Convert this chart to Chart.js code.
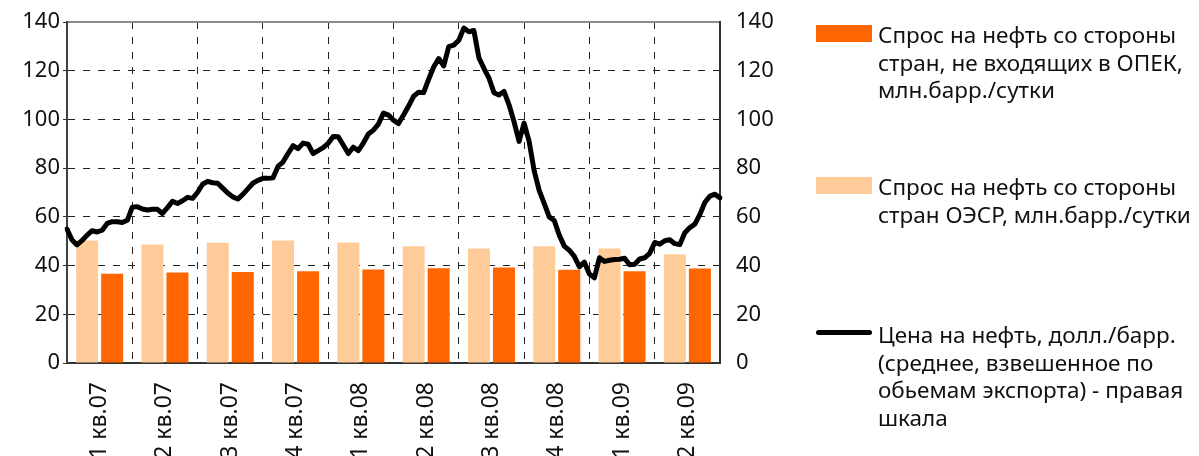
<!DOCTYPE html>
<html>
<head>
<meta charset="utf-8">
<script src="https://cdn.jsdelivr.net/npm/chart.js@4.4.0/dist/chart.umd.min.js"></script>
<style>
html,body{margin:0;padding:0;background:#fff;overflow:hidden;}
#wrap{position:relative;width:1199px;height:456px;}
#c,#c2{position:absolute;left:0;top:0;}
#c2{pointer-events:none;}
#legend{position:absolute;left:0;top:0;width:1199px;height:456px;font-family:"Noto Sans",sans-serif;font-size:22.5px;color:#111;}
.item{position:absolute;left:816px;width:383px;}
.item0{top:21px}
.item1{top:173px}
.item2{top:321px}
.sw{position:absolute;left:0;width:56px;}
.sw.box{top:4px;height:17px;}
.sw.line{top:9px;height:5px;border-radius:3px;}
.tx{position:absolute;left:62px;top:0;white-space:pre;line-height:27.5px;}
</style>
</head>
<body>
<div id="wrap">
<canvas id="c" width="1199" height="456"></canvas>
<canvas id="c2" width="1199" height="456"></canvas>
<div id="legend"></div>
</div>
<script>
// ---- data ----
const quarters = ['1 кв.07','2 кв.07','3 кв.07','4 кв.07','1 кв.08','2 кв.08','3 кв.08','4 кв.08','1 кв.09','2 кв.09'];
const oecdDemand = [50.3, 48.7, 49.4, 50.3, 49.5, 47.9, 47.0, 47.9, 47.0, 44.6];
const nonOpecDemand = [36.6, 37.2, 37.4, 37.7, 38.4, 38.9, 39.2, 38.3, 37.7, 38.8];
const oilPrice = [
  55, 50.5, 48.5, 50.3, 52.5, 54.3, 53.8, 54.5, 57.3, 58, 58, 57.7, 58.6, 64,
  64.2, 63.2, 62.8, 63.1, 63.1, 61.4, 63.8, 66.4, 65.5, 66.6, 68, 67.6, 70.1,
  73.4, 74.6, 74, 73.8, 71.8, 69.8, 68.2, 67.3, 69.2, 71.5, 73.8, 75, 75.8,
  75.8, 76, 80.7, 82.5, 86, 89.2, 88, 90.3, 89.8, 86, 87.2, 88.4, 90.2, 93,
  92.9, 89.5, 86, 88.6, 87.2, 90.3, 94, 95.6, 98.1, 102.6, 101.8, 99.7, 98.3,
  101.8, 105.5, 109.5, 111.2, 111, 116.5, 121.5, 125, 122, 129.9, 130.5, 132.5,
  137.5, 136, 136.5, 125.3, 121, 117, 111, 110, 111.5, 106, 99, 91, 98.5, 91,
  79, 70.9, 65.5, 60, 58.5, 52.5, 48, 46.3, 43.8, 39.5, 41.4, 36.5, 35, 43.2,
  41.7, 42.2, 42.5, 42.6, 43, 40.3, 40.5, 42.7, 43.2, 45, 49.5, 48.8, 50.2,
  50.6, 49, 48.6, 53.5, 55.6, 57, 61, 66, 68.5, 69.3, 67.8
];
const weeks = oilPrice.map((_, i) => 'нед. ' + (i + 1));
const yTicks = [0, 20, 40, 60, 80, 100, 120, 140];

const labelNonOpec = 'Спрос на нефть со стороны\nстран, не входящих в ОПЕК,\nмлн.барр./сутки';
const labelOecd = 'Спрос на нефть со стороны\nстран ОЭСР, млн.барр./сутки';
const labelPrice = 'Цена на нефть, долл./барр.\n(среднее, взвешенное по\nобьемам экспорта) - правая\nшкала';

const FONT = '"Noto Sans", sans-serif';
const tickFont = {family: FONT, size: 22};
const DASH = [7, 8];
const W = 1199, H = 456;

// ---- base chart: bars, grid and both value axes ----
const chart = new Chart(document.getElementById('c'), {
  type: 'bar',
  data: {
    labels: quarters,
    datasets: [
      {
        label: labelOecd, data: oecdDemand, backgroundColor: '#FFCC99',
        categoryPercentage: 0.766, barPercentage: 0.88
      },
      {
        label: labelNonOpec, data: nonOpecDemand, backgroundColor: '#FF6600',
        categoryPercentage: 0.766, barPercentage: 0.88
      }
    ]
  },
  options: {
    responsive: false,
    animation: false,
    layout: {padding: {top: 0, right: 419, bottom: 0, left: 0}},
    plugins: {legend: {display: false}, tooltip: {enabled: false}},
    scales: {
      x: {
        type: 'category', position: 'bottom', offset: true,
        grid: {offset: true, color: '#222', lineWidth: 1, drawTicks: false},
        border: {display: true, color: '#333', width: 2, dash: DASH},
        ticks: {font: {family: FONT, size: 23}, color: '#111', minRotation: 90, maxRotation: 90, autoSkip: false, padding: 19},
        afterFit: (s) => { s.height = 93; }
      },
      xTop: {
        type: 'category', position: 'top', offset: true,
        grid: {display: false},
        border: {display: true, color: '#8c8c8c', width: 2},
        ticks: {display: false},
        afterFit: (s) => { s.height = 22; }
      },
      y: {
        position: 'left', min: 0, max: 140,
        afterBuildTicks: (s) => { s.ticks = yTicks.map(v => ({value: v})); },
        grid: {color: '#222', lineWidth: 1, drawTicks: true, tickLength: 4, tickColor: '#333', tickBorderDash: []},
        border: {display: true, color: '#404040', width: 2, dash: DASH},
        ticks: {font: tickFont, color: '#111', padding: 3},
        afterFit: (s) => { s.width = 67; }
      },
      y2: {
        position: 'right', min: 0, max: 140,
        afterBuildTicks: (s) => { s.ticks = yTicks.map(v => ({value: v})); },
        grid: {display: false},
        border: {display: true, color: '#333', width: 2},
        ticks: {font: tickFont, color: '#111', padding: 8},
        afterFit: (s) => { s.width = 60; }
      }
    }
  }
});

// ---- overlay chart: weekly oil price on the right scale, same plot area ----
const ca = chart.chartArea;
const priceChart = new Chart(document.getElementById('c2'), {
  type: 'line',
  data: {
    labels: weeks,
    datasets: [{
      label: labelPrice, data: oilPrice,
      borderColor: '#000000', borderWidth: 5, pointRadius: 0,
      tension: 0, borderJoinStyle: 'round', borderCapStyle: 'round'
    }]
  },
  options: {
    responsive: false,
    animation: false,
    layout: {padding: {left: ca.left, top: ca.top, right: W - ca.right, bottom: H - ca.bottom}},
    plugins: {legend: {display: false}, tooltip: {enabled: false}},
    scales: {
      x: {type: 'category', offset: false, display: false},
      y: {min: 0, max: 140, display: false}
    }
  }
});

// ---- HTML legend built from the charts' datasets ----
const legendItems = [
  {ds: chart.data.datasets[1], line: false},
  {ds: chart.data.datasets[0], line: false},
  {ds: priceChart.data.datasets[0], line: true}
];
const legendEl = document.getElementById('legend');
legendItems.forEach((it, k) => {
  const item = document.createElement('div');
  item.className = 'item item' + k;
  const sw = document.createElement('span');
  sw.className = 'sw ' + (it.line ? 'line' : 'box');
  sw.style.background = it.line ? it.ds.borderColor : it.ds.backgroundColor;
  const tx = document.createElement('span');
  tx.className = 'tx';
  tx.textContent = it.ds.label;
  item.appendChild(sw);
  item.appendChild(tx);
  legendEl.appendChild(item);
});
</script>
</body>
</html>
